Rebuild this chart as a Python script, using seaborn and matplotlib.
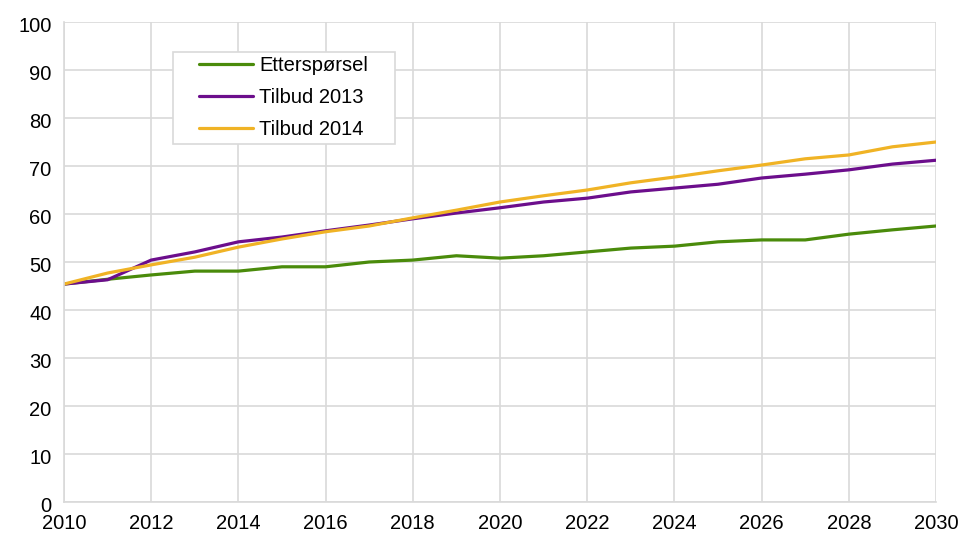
import numpy as np
import pandas as pd
import matplotlib
matplotlib.use("Agg")
import matplotlib.pyplot as plt
import matplotlib.transforms as mtransforms
from matplotlib.patches import Rectangle
import seaborn as sns

years = list(range(2010, 2031))
etterspoersel = [45.4, 46.4, 47.3, 48.1, 48.1, 49.0, 49.0, 50.0, 50.4, 51.3, 50.8,
                 51.3, 52.1, 52.9, 53.3, 54.2, 54.6, 54.6, 55.8, 56.7, 57.5]
tilbud_2013 = [45.4, 46.3, 50.4, 52.1, 54.2, 55.2, 56.5, 57.7, 59.0, 60.2, 61.3,
               62.5, 63.3, 64.6, 65.4, 66.2, 67.5, 68.3, 69.2, 70.4, 71.2]
tilbud_2014 = [45.4, 47.7, 49.4, 51.0, 53.1, 54.8, 56.3, 57.5, 59.2, 60.8, 62.5,
               63.8, 65.0, 66.5, 67.7, 69.0, 70.2, 71.5, 72.3, 74.0, 75.0]

series_names = ["Etterspørsel", "Tilbud 2013", "Tilbud 2014"]
colors = ["#4A8B0B", "#6C0E8C", "#F0B325"]

df = pd.DataFrame({"År": years, series_names[0]: etterspoersel,
                   series_names[1]: tilbud_2013, series_names[2]: tilbud_2014})
long = df.melt(id_vars="År", var_name="Serie", value_name="Verdi")

sns.set_style("white")
plt.rcParams["font.family"] = ["Liberation Sans", "DejaVu Sans"]

fig = plt.figure(figsize=(9.65, 5.33), dpi=100)
ax = fig.add_axes([0.0663, 0.0582, 0.9037, 0.9005])

sns.lineplot(data=long, x="År", y="Verdi", hue="Serie", hue_order=series_names,
             palette=colors, linewidth=2.3, ax=ax)

ax.set_xlim(2010, 2030)
ax.set_ylim(0, 100)
ax.set_xticks(range(2010, 2031, 2))
ax.set_yticks(range(0, 101, 10))
ax.set_xlabel("")
ax.set_ylabel("")
ax.grid(True, color="#D9D9D9", linewidth=1.2)
ax.set_axisbelow(True)
for side in ["top", "right"]:
    ax.spines[side].set_visible(False)
for side in ["left", "bottom"]:
    ax.spines[side].set_color("#D9D9D9")
    ax.spines[side].set_linewidth(1.2)
ax.tick_params(length=0, labelsize=14.5, colors="black")
ax.tick_params(axis="y", pad=9)
ax.tick_params(axis="x", pad=9)

# Excel-style: y labels sit a little below their gridline
shift = mtransforms.ScaledTranslation(0, -1.5 / 72, fig.dpi_scale_trans)
for lab in ax.get_yticklabels():
    lab.set_transform(lab.get_transform() + shift)

leg = ax.legend(loc="upper left", bbox_to_anchor=(0.1548, 0.929), fontsize=14.5,
                frameon=False, borderaxespad=0, borderpad=0,
                handlelength=2.7, handletextpad=0.3, labelspacing=0.64)
for t in leg.get_texts():
    t.set_color("black")

# legend box with wider horizontal padding than vertical
fig.canvas.draw()
bb = leg.get_window_extent()
box = Rectangle((bb.x0 - 26, bb.y0 - 5), bb.width + 53, bb.height + 9,
                transform=None, facecolor="white", edgecolor="#D9D9D9",
                linewidth=1.2, zorder=4.5)
ax.add_artist(box)

fig.savefig("out.png", dpi=100)
